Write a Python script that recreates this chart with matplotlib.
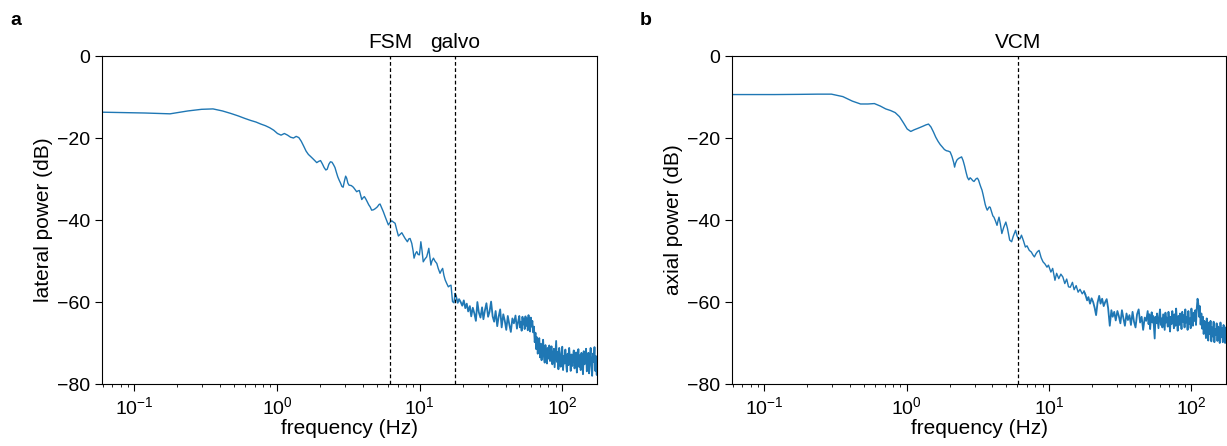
import matplotlib
matplotlib.use("Agg")
import matplotlib.pyplot as plt
import matplotlib.transforms as mtransforms

plt.rcParams['font.family'] = ['Liberation Sans', 'DejaVu Sans']
plt.rcParams['mathtext.fontset'] = 'custom'
plt.rcParams['mathtext.rm'] = 'Liberation Sans'
plt.rcParams['mathtext.it'] = 'Liberation Sans:italic'
plt.rcParams['mathtext.bf'] = 'Liberation Sans:bold'

# ---------------- data ----------------
# low / mid frequency part, panel a (lateral)
freq_low_a = [0.0593, 0.1186, 0.178, 0.237, 0.296, 0.356, 0.415, 0.474, 0.534, 0.593,
              0.652, 0.712, 0.771, 0.830, 0.890, 0.949, 1.008, 1.068, 1.127, 1.186,
              1.245, 1.305, 1.364, 1.423, 1.48, 1.54, 1.60, 1.66, 1.72, 1.78,
              1.84, 1.90, 1.96, 2.02, 2.08, 2.14, 2.20, 2.25, 2.31, 2.37,
              2.43, 2.49, 2.55, 2.61, 2.67, 2.73, 2.79, 2.85, 2.91, 2.97,
              3.03, 3.08, 3.14, 3.20, 3.32, 3.43, 3.55, 3.62, 3.70, 3.78,
              3.85, 3.93, 4.03, 4.10, 4.20, 4.30, 4.40, 4.50, 4.61, 4.75,
              4.90, 5.05, 5.20, 5.28, 5.40, 5.57, 5.75, 5.90, 6.04, 6.20,
              6.38, 6.55, 6.73, 6.90, 7.10, 7.30, 7.50, 7.70, 7.91, 8.21,
              8.40, 8.57, 8.81, 9.00, 9.14, 9.35, 9.55, 9.75, 9.96, 10.1,
              10.2, 10.4, 10.6, 10.9, 11.2, 11.4, 11.6, 11.8, 12.0, 12.2,
              12.5, 12.8, 13.2, 13.5, 13.9, 14.2, 14.5, 14.8, 15.1, 15.5,
              15.9, 16.3, 16.6, 17.0, 17.4, 17.7]
power_low_a = [-13.7, -13.9, -14.1, -13.4, -13.0, -12.9, -13.4, -14.0, -14.6, -15.2,
               -15.7, -16.1, -16.6, -17.0, -17.5, -18.1, -18.9, -19.3, -18.9, -19.3,
               -19.8, -20.0, -19.6, -19.9, -20.8, -22.0, -23.2, -24.0, -24.5, -25.0,
               -25.5, -26.0, -25.7, -25.5, -26.3, -27.2, -27.8, -27.6, -26.4, -25.8,
               -25.9, -26.5, -27.2, -28.4, -29.5, -30.3, -31.0, -31.8, -32.0, -30.5,
               -29.3, -29.8, -31.0, -31.5, -31.6, -32.0, -32.7, -33.1, -32.9, -32.8,
               -33.8, -35.0, -34.5, -34.3, -34.9, -35.6, -36.3, -36.8, -37.6, -37.5,
               -37.2, -36.8, -36.2, -36.1, -36.9, -38.0, -39.3, -40.3, -41.2, -40.6,
               -40.2, -40.5, -40.8, -42.3, -43.9, -43.5, -43.1, -43.8, -44.5, -45.3,
               -44.6, -44.5, -45.7, -47.5, -49.3, -48.2, -47.7, -48.4, -48.5, -46.8,
               -45.3, -47.5, -50.2, -49.5, -49.0, -48.0, -46.9, -49.0, -51.0, -50.0,
               -49.3, -50.0, -50.6, -51.8, -53.0, -52.3, -51.8, -53.5, -54.6, -55.5,
               -56.3, -56.0, -55.9, -59.9, -60.2, -58.0]

# low / mid frequency part, panel b (axial)
freq_low_b = [0.0593, 0.1186, 0.178, 0.237, 0.296, 0.356, 0.415, 0.474, 0.534, 0.593,
              0.652, 0.712, 0.771, 0.830, 0.890, 0.949, 1.008, 1.068, 1.127, 1.186,
              1.245, 1.305, 1.364, 1.423, 1.48, 1.54, 1.60, 1.66, 1.72, 1.78,
              1.84, 1.90, 1.96, 2.02, 2.08, 2.14, 2.17, 2.20, 2.25, 2.31,
              2.37, 2.43, 2.49, 2.55, 2.61, 2.67, 2.73, 2.79, 2.85, 2.91,
              2.97, 3.03, 3.08, 3.14, 3.20, 3.26, 3.32, 3.38, 3.44, 3.50,
              3.56, 3.62, 3.68, 3.74, 3.80, 3.86, 3.93, 4.03, 4.10, 4.20,
              4.31, 4.38, 4.45, 4.55, 4.66, 4.80, 4.97, 5.10, 5.29, 5.46,
              5.60, 5.82, 5.95, 6.08, 6.25, 6.40, 6.60, 6.82, 7.00, 7.26,
              7.50, 7.70, 7.89, 8.10, 8.30, 8.51, 8.80, 9.07, 9.35, 9.67,
              9.90, 10.3, 10.6, 11.0, 11.3, 11.7, 12.1, 12.5, 12.9, 13.3,
              13.7, 14.1, 14.6, 15.0, 15.5, 16.0, 16.5, 17.1, 17.6]
power_low_b = [-9.4, -9.4, -9.35, -9.3, -9.3, -9.9, -11.0, -11.7, -11.7, -11.6,
               -12.2, -12.9, -13.3, -13.8, -14.8, -16.3, -17.8, -18.4, -18.0, -17.7,
               -17.4, -17.1, -16.8, -16.6, -17.3, -18.5, -19.8, -20.8, -21.6, -22.2,
               -22.8, -23.1, -23.2, -23.4, -24.5, -26.0, -27.1, -26.2, -25.4, -25.0,
               -24.8, -24.6, -25.5, -26.8, -28.3, -29.6, -30.2, -29.7, -30.0, -30.4,
               -30.6, -30.2, -29.9, -29.8, -30.3, -31.2, -32.0, -32.7, -33.8, -35.0,
               -36.2, -37.0, -37.6, -37.2, -36.8, -36.9, -37.8, -39.0, -39.3, -40.2,
               -41.3, -40.2, -39.3, -41.0, -43.3, -41.8, -40.5, -42.0, -44.9, -45.3,
               -44.0, -42.5, -43.8, -44.5, -44.6, -43.7, -45.0, -46.6, -46.3, -47.4,
               -47.8, -48.5, -49.0, -48.2, -47.7, -47.4, -49.2, -50.2, -50.7, -51.5,
               -51.0, -52.7, -51.8, -54.7, -53.0, -54.3, -53.2, -53.9, -55.5, -54.4,
               -56.3, -56.4, -55.2, -57.0, -56.0, -57.6, -56.9, -58.0, -57.4]

# noisy high-frequency part (same frequency bins for both panels)
freq_band = [18.0, 18.5, 18.9, 19.4, 19.9, 20.4, 20.9, 21.4, 21.9, 22.5,
             23.0, 23.6, 24.2, 24.8, 25.4, 26.0, 26.7, 27.4, 28.0, 28.7,
             29.4, 30.2, 30.9, 31.7, 32.5, 33.3, 34.1, 35.0, 35.8, 36.7,
             37.6, 38.6, 39.5, 40.5, 41.5, 42.6, 43.6, 44.7, 45.8, 47.0,
             48.1, 49.3,
             50.0, 50.6, 51.3, 51.9, 52.6, 53.2, 53.9, 54.5, 55.2, 55.9,
             56.6, 57.3, 58.0, 58.7, 59.5, 60.2, 61.0, 61.7, 62.5, 63.3,
             64.1, 64.9, 65.7, 66.5, 67.3, 68.2, 69.0, 69.9, 70.8, 71.6,
             72.5, 73.4, 74.4, 75.3, 76.2, 77.2, 78.1, 79.1, 80.1, 81.1,
             82.1, 83.1, 84.1, 85.2, 86.2, 87.3, 88.4, 89.5, 90.6, 91.7,
             92.9, 94.0, 95.2, 96.4, 97.6, 98.8, 100.0, 101.3, 102.5, 103.8,
             105.1, 106.4, 107.7, 109.1, 110.4, 111.8, 113.2, 114.6, 116.0, 117.5,
             118.9, 120.4, 121.9, 123.4, 125.0, 126.5, 128.1, 129.7, 131.3, 132.9,
             134.6, 136.3, 138.0, 139.7, 141.4, 143.2, 145.0, 146.8, 148.6, 150.4,
             152.3, 154.2, 156.1, 158.1, 160.0, 162.0, 164.1, 166.1, 168.2, 170.3,
             172.4, 174.5, 175.0]
power_band_a = [-58.6, -60.2, -59.3, -60.0, -60.9, -59.6, -61.5, -60.4, -62.3, -61.0,
                -63.5, -61.4, -62.8, -64.6, -60.0, -62.5, -63.8, -61.3, -64.2, -62.0,
                -60.3, -63.6, -62.4, -59.9, -63.5, -64.8, -62.2, -65.9, -63.6, -61.8,
                -66.2, -63.0, -64.5, -66.8, -63.4, -65.6, -67.3, -64.0, -65.2, -63.3,
                -66.5, -64.4,
                -63.4, -66.2, -64.8, -67.0, -63.6, -65.5, -64.2, -66.6, -63.5, -65.8,
                -64.0, -66.9, -63.2, -65.4, -67.2, -63.8, -66.0, -64.6, -67.4, -66.0,
                -69.8, -67.5, -71.5, -68.6, -72.6, -70.0, -68.8, -73.5, -70.2, -74.2,
                -71.0, -69.2, -73.4, -74.8, -70.5, -72.6, -75.0, -71.2, -73.8, -70.6,
                -74.4, -72.0, -70.8, -75.2, -73.0, -71.4, -75.9, -72.5, -69.5, -74.6,
                -72.2, -76.4, -71.2, -74.0, -75.8, -72.4, -70.9, -76.6, -73.2, -75.0,
                -71.6, -74.8, -77.0, -72.6, -75.4, -71.2, -73.8, -76.8, -72.8, -75.6,
                -73.4, -71.8, -76.2, -74.0, -72.3, -77.2, -74.6, -71.5, -75.8, -73.0,
                -76.6, -72.4, -74.8, -77.6, -72.0, -75.2, -73.6, -71.4, -76.9, -74.2,
                -72.4, -77.4, -73.8, -71.2, -75.6, -78.0, -72.6, -74.6, -71.0, -76.8,
                -73.2, -77.8, -74.0]
power_band_b = [-58.2, -59.6, -58.8, -60.4, -59.1, -60.0, -61.4, -63.2, -60.2, -58.5,
                -60.4, -59.2, -61.0, -60.0, -59.3, -61.5, -65.8, -62.0, -63.6, -62.4,
                -64.5, -62.2, -63.4, -65.2, -62.0, -64.0, -65.8, -62.8, -64.4, -63.2,
                -65.6, -62.4, -64.8, -66.2, -63.0, -61.8, -65.0, -63.6, -66.8, -63.8,
                -64.6, -62.2,
                -65.4, -63.0, -66.6, -64.2, -62.5, -65.0, -63.4, -66.0, -68.9, -63.6,
                -65.2, -62.8, -64.6, -66.4, -63.2, -61.8, -65.6, -64.0, -66.2, -63.0,
                -64.8, -66.8, -62.6, -65.0, -63.8, -66.0, -62.4, -64.6, -67.2, -63.6,
                -65.4, -62.2, -64.2, -66.4, -63.0, -65.8, -61.6, -64.6, -67.0, -63.4,
                -65.6, -62.8, -64.0, -66.6, -62.4, -64.8, -63.2, -66.2, -61.8, -65.0,
                -63.6, -66.8, -62.2, -65.4, -64.0, -66.4, -61.6, -64.4, -65.8, -62.6,
                -64.6, -62.0, -65.6, -61.4, -59.2, -60.4, -63.6, -61.0, -65.5, -62.8,
                -66.5, -63.6, -67.8, -64.6, -66.2, -68.8, -64.0, -67.2, -69.4, -65.0,
                -67.8, -64.6, -69.6, -66.2, -68.4, -64.8, -69.8, -66.6, -68.0, -65.2,
                -69.5, -66.0, -67.6, -70.0, -65.0, -68.6, -66.4, -69.8, -65.6, -68.2,
                -70.0, -66.2, -68.0]

markers_a = [6.2, 17.7]
marker_labels_a = ["FSM", "galvo"]
markers_b = [6.1]
marker_labels_b = ["VCM"]

ylabels = ["lateral power (dB)", "axial power (dB)"]
panel_letters = ["a", "b"]
yticks = [-80, -60, -40, -20, 0]

# ---------------- figure ----------------
fig = plt.figure(figsize=(12.27, 4.46), dpi=100)
ax_a = fig.add_axes([0.0831, 0.139, 0.4034, 0.7354])
ax_b = fig.add_axes([0.5966, 0.139, 0.4026, 0.7354])

TICK_FS = 14
LABEL_FS = 15
LINE_C = '#1f77b4'
panels = [
    (ax_a, freq_low_a, power_low_a, power_band_a, markers_a, marker_labels_a),
    (ax_b, freq_low_b, power_low_b, power_band_b, markers_b, marker_labels_b),
]
for i, (ax, fl, pl, pb, mk, ml) in enumerate(panels):
    # smooth low-frequency part and dense noisy high-frequency part of one spectrum
    ax.plot(fl + freq_band[:1], pl + pb[:1], color=LINE_C, lw=1.0)
    ax.plot(fl[-1:] + freq_band, pl[-1:] + pb, color=LINE_C, lw=1.3)
    ax.set_xscale('log')
    ax.set_xlim(0.0593, 175)
    ax.set_ylim(-80, 0)
    ax.set_yticks(yticks)
    trans = mtransforms.blended_transform_factory(ax.transData, ax.transAxes)
    for m, lab in zip(mk, ml):
        ax.axvline(m, color='black', lw=0.9, ls=(0, (3, 2)))
        ax.text(m, 1.012, lab, transform=trans, ha='center', va='bottom', fontsize=LABEL_FS)
    ax.set_xlabel("frequency (Hz)", fontsize=LABEL_FS, labelpad=1)
    ax.set_ylabel(ylabels[i], fontsize=LABEL_FS, labelpad=3)
    ax.tick_params(axis='both', which='major', labelsize=TICK_FS, length=5, width=0.8)
    ax.tick_params(axis='both', which='minor', length=2.5, width=0.6)
    for s in ax.spines.values():
        s.set_linewidth(0.8)

fig.text(10 / 1227, 1 - 25 / 446, panel_letters[0], fontsize=14, fontweight='bold',
         ha='left', va='baseline')
fig.text(640 / 1227, 1 - 25 / 446, panel_letters[1], fontsize=14, fontweight='bold',
         ha='left', va='baseline')

fig.savefig("out.png", dpi=100)
